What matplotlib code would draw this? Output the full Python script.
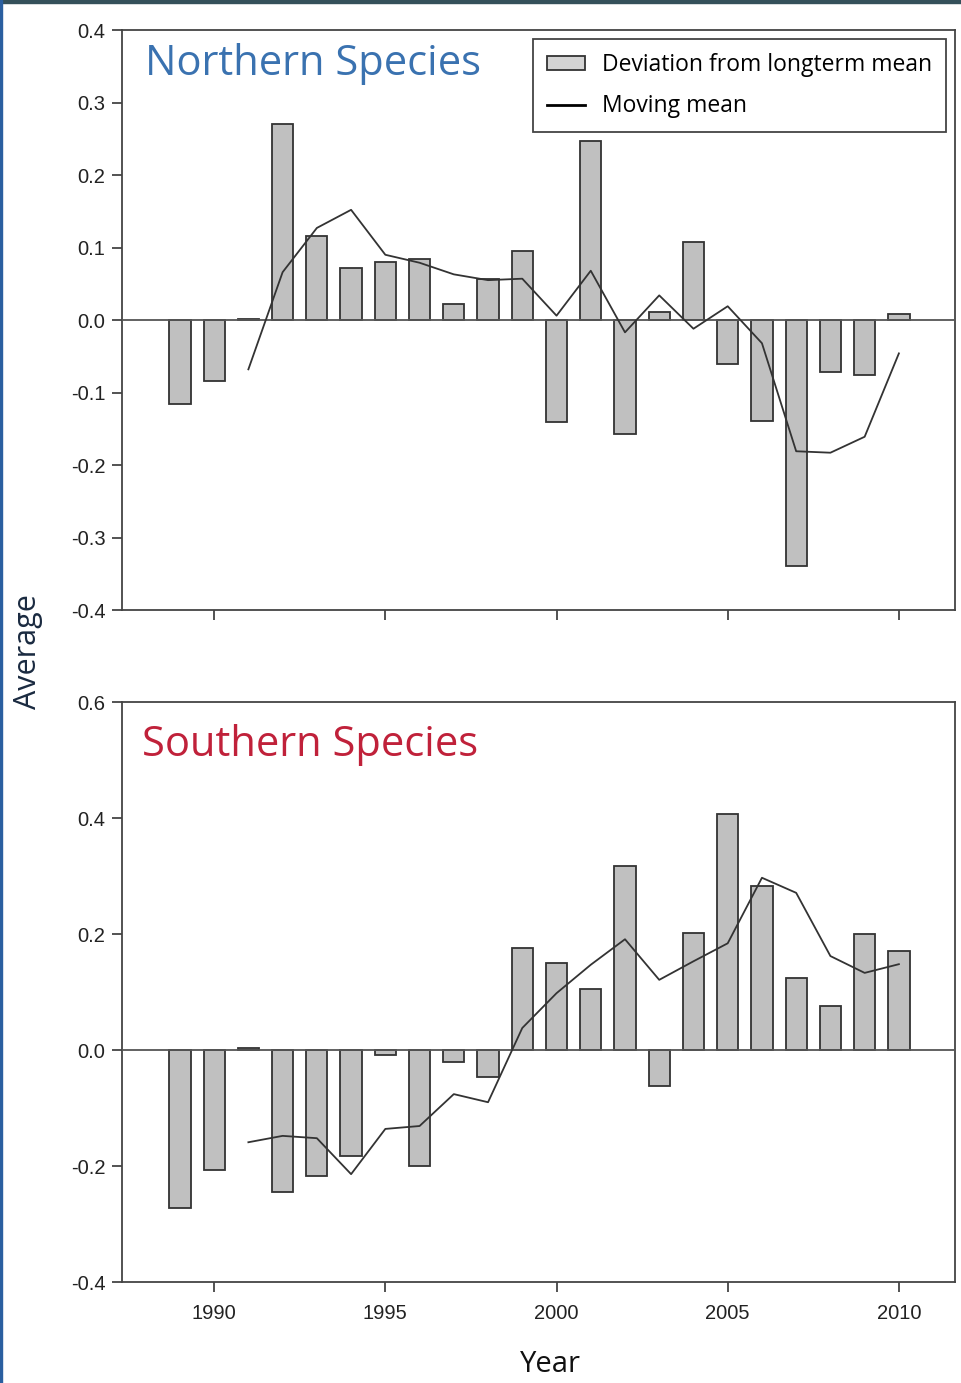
import matplotlib

matplotlib.use("Agg")
import matplotlib.pyplot as plt  # noqa: E402
from matplotlib.patches import Patch, Rectangle  # noqa: E402
from matplotlib.lines import Line2D  # noqa: E402

years = list(range(1989, 2011))

north_dev = [-0.116, -0.084, 0.002, 0.270, 0.116, 0.072, 0.080, 0.084, 0.022, 0.057,
             0.095, -0.141, 0.247, -0.157, 0.011, 0.108, -0.061, -0.139, -0.339,
             -0.072, -0.076, 0.008]
south_dev = [-0.272, -0.207, 0.004, -0.245, -0.217, -0.183, -0.009, -0.200, -0.021,
             -0.047, 0.176, 0.150, 0.105, 0.317, -0.062, 0.202, 0.407, 0.283, 0.124,
             0.076, 0.200, 0.171]

mm_years = list(range(1991, 2011))
north_mm = [-0.068, 0.066, 0.127, 0.152, 0.090, 0.079, 0.063, 0.055, 0.057, 0.006,
            0.068, -0.017, 0.034, -0.012, 0.019, -0.032, -0.181, -0.183, -0.161, -0.046]
south_mm = [-0.159, -0.148, -0.152, -0.214, -0.136, -0.131, -0.076, -0.090, 0.038,
            0.098, 0.147, 0.191, 0.121, 0.153, 0.184, 0.297, 0.271, 0.162, 0.133, 0.148]

north_ticks = [-0.4, -0.3, -0.2, -0.1, 0.0, 0.1, 0.2, 0.3, 0.4]
south_ticks = [-0.4, -0.2, 0.0, 0.2, 0.4, 0.6]
x_ticks = [1990, 1995, 2000, 2005, 2010]

TICK_FONT = ["Liberation Sans", "DejaVu Sans"]
TEXT_FONT = ["Open Sans", "DejaVu Sans"]
EDGE = "#333333"

fig = plt.figure(figsize=(9.61, 13.83), dpi=100)
ax_n = fig.add_axes([0.127, 0.5589, 0.8668, 0.4194])
ax_s = fig.add_axes([0.127, 0.0730, 0.8668, 0.4194])


def draw_panel(ax, dev, mm, yticks, ylim):
    ax.bar(years, dev, width=0.62, color="#c0c0c0", edgecolor=EDGE, linewidth=1.3, zorder=2)
    ax.axhline(0, color="#555555", linewidth=1.3, zorder=3)
    ax.plot(mm_years, mm, color="#333333", linewidth=1.3, zorder=4)
    ax.set_xlim(1987.31, 2011.64)
    ax.set_ylim(*ylim)
    ax.set_yticks(yticks)
    ax.set_yticklabels([f"{v:.1f}" for v in yticks], family=TICK_FONT, fontsize=14.5,
                       color="#222222")
    ax.set_xticks(x_ticks)
    for s in ax.spines.values():
        s.set_color("#444444")
        s.set_linewidth(1.3)
    ax.tick_params(direction="out", length=7, width=1.3, color="#444444", pad=5)


draw_panel(ax_n, north_dev, north_mm, north_ticks, (-0.4, 0.4))
draw_panel(ax_s, south_dev, south_mm, south_ticks, (-0.4, 0.6))

ax_n.set_xticklabels([])
ax_s.set_xticklabels([str(x) for x in x_ticks], family=TICK_FONT, fontsize=14.5,
                     color="#222222")
ax_s.tick_params(axis="x", pad=9)

ax_n.text(0.028, 0.977, "Northern Species", transform=ax_n.transAxes, ha="left", va="top",
          family=TEXT_FONT, fontsize=30, color="#3a72b0")
ax_s.text(0.024, 0.962, "Southern Species", transform=ax_s.transAxes, ha="left", va="top",
          family=TEXT_FONT, fontsize=30, color="#c0213a")

handles = [Patch(facecolor="#d4d4d4", edgecolor=EDGE, linewidth=1.3),
           Line2D([], [], color="black", linewidth=2)]
leg = ax_n.legend(handles, ["Deviation from longterm mean", "Moving mean"],
                  loc="upper right", bbox_to_anchor=(0.989, 0.984), borderaxespad=0,
                  fancybox=False, framealpha=1, edgecolor="#444444", handlelength=1.65,
                  handleheight=0.6, handletextpad=0.75, borderpad=0.6, labelspacing=0.75,
                  prop={"family": TEXT_FONT, "size": 16.5})
leg.get_frame().set_linewidth(1.3)

fig.text(0.029, 0.5286, "Average", rotation=90, ha="center", va="center",
         family=TEXT_FONT, fontsize=22, color="#1a2a40")
fig.text(0.573, 0.0137, "Year", ha="center", va="center", family=TEXT_FONT, fontsize=21,
         color="#111111")

# thin frame seen on the screenshot edges
fig.patches.append(Rectangle((0, 0.9975), 1, 0.0025, transform=fig.transFigure,
                             color="#34505a", zorder=10))
fig.patches.append(Rectangle((0, 0), 0.002, 1, transform=fig.transFigure,
                             color="#2a5fa0", zorder=10))

fig.savefig("out.png", dpi=100)
plt.close(fig)
